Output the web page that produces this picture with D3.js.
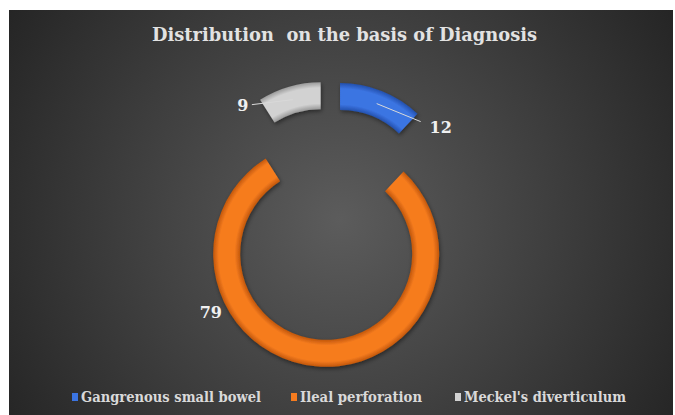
<!DOCTYPE html>
<html>
<head>
<meta charset="utf-8">
<script src="https://cdn.jsdelivr.net/npm/d3@7"></script>
<style>
  body { margin: 0; background: #fff; }
</style>
</head>
<body>
<div class="chart"></div>
<script>
// Data
const categories = ["Gangrenous small bowel", "Ileal perforation", "Meckel's diverticulum"];
const values = [12, 79, 9];
const title = "Distribution  on the basis of Diagnosis";

// Sizes
const w = 675;
const h = 415;
const cx = 329;
const cy = 224;
const outerR = 113;
const innerR = 86;
const explode = 30;
const serif = "'DejaVu Serif', serif";

const colors = [
  { base: "#3b74e2", edge: "#2350ad" },
  { base: "#f67c1f", edge: "#c2570b" },
  { base: "#d2d2d2", edge: "#9a9a9a" }
];

const svg = d3.select(".chart")
  .append("svg")
  .attr("width", w)
  .attr("height", h);

const defs = svg.append("defs");

// Background gradient
const bg = defs.append("radialGradient")
  .attr("id", "bg")
  .attr("gradientUnits", "userSpaceOnUse")
  .attr("cx", 340).attr("cy", 220).attr("r", 400);
bg.append("stop").attr("offset", 0).attr("stop-color", "#5c5c5c");
bg.append("stop").attr("offset", 1).attr("stop-color", "#242424");

// Bevel gradient per slice
colors.forEach((c, i) => {
  const g = defs.append("radialGradient")
    .attr("id", "bevel" + i)
    .attr("gradientUnits", "userSpaceOnUse")
    .attr("cx", 0).attr("cy", 0).attr("r", outerR);
  const s0 = innerR / outerR;
  [[s0, c.edge], [s0 + 0.05, c.base], [0.95, c.base], [1, c.edge]].forEach(([o, col]) =>
    g.append("stop").attr("offset", o).attr("stop-color", col));
});

const shadow = defs.append("filter").attr("id", "shadow")
  .attr("x", "-20%").attr("y", "-20%").attr("width", "140%").attr("height", "140%");
shadow.append("feDropShadow")
  .attr("dx", 1).attr("dy", 2).attr("stdDeviation", 2)
  .attr("flood-color", "#000").attr("flood-opacity", 0.45);

svg.append("rect")
  .attr("x", 9).attr("y", 10)
  .attr("width", 664).attr("height", h - 10)
  .attr("fill", "url(#bg)");

// Title
svg.append("text")
  .attr("x", 344.5).attr("y", 41)
  .attr("text-anchor", "middle")
  .attr("fill", "#e2e2e2")
  .attr("font-family", serif)
  .attr("font-weight", "bold")
  .attr("font-size", 19)
  .attr("textLength", 385)
  .attr("lengthAdjust", "spacingAndGlyphs")
  .style("white-space", "pre")
  .text(title);

// Doughnut
const pie = d3.pie().sort(null).value((d) => d);
const arcs = pie(values);
const arc = d3.arc().innerRadius(innerR).outerRadius(outerR);

const slices = svg.selectAll("g.slice")
  .data(arcs)
  .enter()
  .append("g")
  .attr("class", "slice")
  .attr("transform", (d) => {
    const a = (d.startAngle + d.endAngle) / 2;
    return `translate(${cx + explode * Math.sin(a)}, ${cy - explode * Math.cos(a)})`;
  });

slices.append("path")
  .attr("d", arc)
  .attr("fill", (d, i) => `url(#bevel${i})`)
  .attr("filter", "url(#shadow)");

// Data labels (offsets relative to each slice's centroid)
const labelLayout = [
  { line: [44, 18], dx: 64, dy: 29 },
  { line: null, dx: -106, dy: -35 },
  { line: [-41, 5], dx: -50, dy: 11 }
];

slices.each(function (d, i) {
  const g = d3.select(this);
  const [x0, y0] = arc.centroid(d);
  const L = labelLayout[i];
  if (L.line) {
    g.append("line")
      .attr("x1", x0).attr("y1", y0)
      .attr("x2", x0 + L.line[0]).attr("y2", y0 + L.line[1])
      .attr("stroke", "#d9d9d9").attr("stroke-width", 1);
  }
  g.append("text")
    .attr("x", x0 + L.dx).attr("y", y0 + L.dy)
    .attr("text-anchor", "middle")
    .attr("fill", "#f0f0f0")
    .attr("font-family", serif)
    .attr("font-weight", "bold")
    .attr("font-size", 16)
    .text(values[i]);
});

// Legend
const legendX = [72, 291, 455];
const legendLen = [180, 122, 162];
const legend = svg.selectAll("g.legend")
  .data(categories)
  .enter()
  .append("g")
  .attr("class", "legend")
  .attr("transform", (d, i) => `translate(${legendX[i]}, 397)`);

legend.append("rect")
  .attr("x", 0).attr("y", -4)
  .attr("width", 6).attr("height", 8)
  .attr("fill", (d, i) => colors[i].base);

legend.append("text")
  .attr("x", 9).attr("y", 5)
  .attr("fill", "#d9d9d9")
  .attr("font-family", serif)
  .attr("font-weight", "bold")
  .attr("font-size", 15)
  .attr("textLength", (d, i) => legendLen[i])
  .attr("lengthAdjust", "spacingAndGlyphs")
  .text((d) => d);
</script>
</body>
</html>
